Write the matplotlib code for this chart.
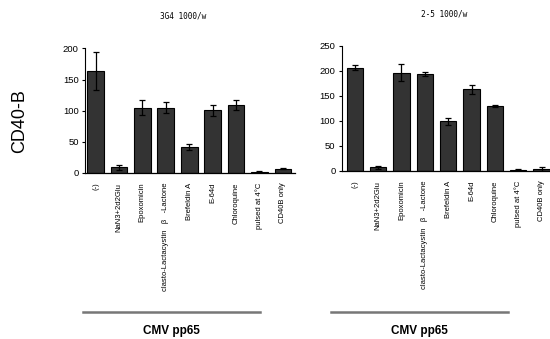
import numpy as np
import matplotlib
matplotlib.use("Agg")
import matplotlib.pyplot as plt
from matplotlib.lines import Line2D

# Treatments (same for both panels)
categories = ["(-)", "NaN3+2d2Glu", "Epoxomicin", "clasto-Lactacystin   \u03b2   -Lactone",
              "Brefeldin A", "E-64d", "Chloroquine", "pulsed at 4\u00b0C", "CD40B only"]

# Panel 1: 3G4 1000/w
vals_3g4 = [164, 9, 105, 105, 42, 101, 109, 2, 7]
err_3g4 = [30, 4, 12, 9, 5, 9, 8, 2, 1]

# Panel 2: 2-5 1000/w
vals_25 = [206, 7, 196, 193, 99, 163, 129, 2, 4]
err_25 = [5, 3, 17, 4, 7, 9, 2, 1, 4]

plt.rcParams['font.family'] = ['Liberation Sans', 'DejaVu Sans']

W, H = 550, 339
fig = plt.figure(figsize=(5.5, 3.39), dpi=100)

ax1 = fig.add_axes([0.1545, 0.4897, 0.382, 0.3673])
ax2 = fig.add_axes([0.6213, 0.4956, 0.379, 0.3696])

x = np.arange(len(categories))

def draw(ax, vals, errs, ymax, xlim):
    ax.bar(x, vals, width=0.71, color="#333333", edgecolor="black", linewidth=0.8,
           yerr=errs, error_kw=dict(ecolor="black", elinewidth=0.9, capsize=2, capthick=0.9))
    ax.set_ylim(0, ymax)
    ax.set_xlim(*xlim)
    ax.set_yticks(np.arange(0, ymax + 1, 50))
    ax.tick_params(axis="y", labelsize=6.8, length=2.5, width=0.8, pad=2)
    ax.set_xticks(x)
    ax.set_xticklabels(categories, rotation=90, fontsize=5.5)
    ax.tick_params(axis="x", length=0, pad=7)
    for s in ["top", "right"]:
        ax.spines[s].set_visible(False)
    ax.spines["left"].set_linewidth(0.8)
    ax.spines["bottom"].set_linewidth(0.9)

draw(ax1, vals_3g4, err_3g4, 200, (-0.45, 8.52))
draw(ax2, vals_25, err_25, 250, (-0.56, 8.37))

# panel titles
fig.text(183 / W, 1 - 16 / H, "3G4 1000/w", fontsize=5.6, family="DejaVu Sans Mono",
         ha="center", va="center")
fig.text(444 / W, 1 - 14 / H, "2-5 1000/w", fontsize=5.6, family="DejaVu Sans Mono",
         ha="center", va="center")

fig.text(20 / W, 1 - 121 / H, "CD40-B", rotation=90, fontsize=13,
         ha="center", va="center")

# group brackets under the labels
for x0, x1 in [(83, 260), (331, 508)]:
    fig.add_artist(Line2D([x0 / W, x1 / W], [0.0805, 0.0805], color="#777777",
                          linewidth=1.8, transform=fig.transFigure))
    fig.text((x0 + x1) / 2 / W, 0.0245, "CMV pp65", fontsize=8.5,
             fontweight="bold", ha="center", va="center")

fig.savefig("out.png", dpi=100)
